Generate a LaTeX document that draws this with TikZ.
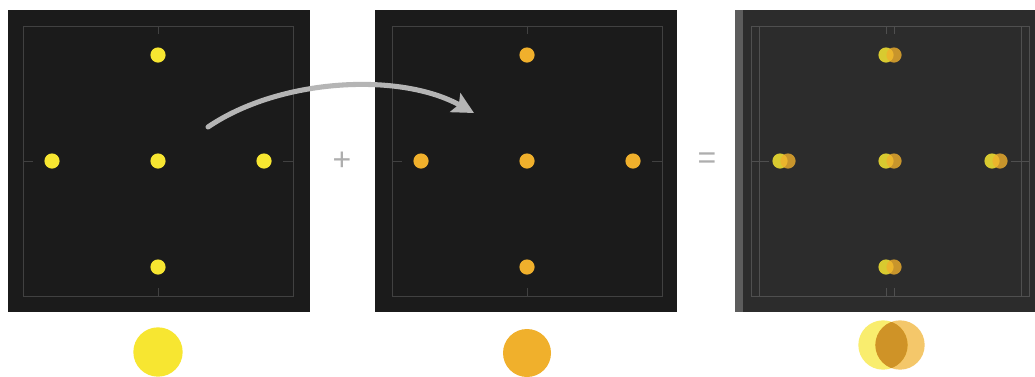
\documentclass[tikz,border=0pt]{standalone}
\usepackage{fontspec}
\setmainfont{Liberation Sans}
\usetikzlibrary{arrows.meta}
\definecolor{panelbg}{HTML}{1B1B1B}
\definecolor{mixbg}{HTML}{2C2C2C}
\definecolor{mixedge}{HTML}{5C5C5C}
\definecolor{frameline}{HTML}{414141}
\definecolor{mixframe}{HTML}{4F4F4F}
\definecolor{dotyellow}{HTML}{F7E631}
\definecolor{dotorange}{HTML}{F0B02C}
\definecolor{overlap}{HTML}{CF9327}
\definecolor{arrowgray}{HTML}{B5B5B5}
\definecolor{signgray}{HTML}{AEAEAE}
\begin{document}
\begin{tikzpicture}[x=0.75pt,y=-0.75pt,
  frame/.style={draw=#1,line width=0.65pt},
  dot/.style={circle,fill=#1,inner sep=0pt,minimum size=11.4pt},
  bigdisc/.style={circle,fill=#1,inner sep=0pt,minimum size=37pt},
  sign/.style={text=signgray,font=\fontsize{24}{24}\selectfont,inner sep=0pt},
  target/.pic={% square frame with centre ticks, 270 units wide
    \draw[frame=#1] (-135,-135) rectangle (135,135);
    \draw[frame=#1] (0,-135) -- (0,-127) (0,135) -- (0,127)
                    (-135,0) -- (-125,0) (135,0) -- (125,0);
  },
  spots/.pic={% five spots: centre and four at distance 106
    \node[dot=#1] (-c) at (0,0) {};
    \node[dot=#1] (-n) at (0,-106) {};
    \node[dot=#1] (-s) at (0,106) {};
    \node[dot=#1] (-w) at (-106,0) {};
    \node[dot=#1] (-e) at (106,0) {};
  }]
\useasboundingbox[fill=white] (0,0) rectangle (1035,376);

% first panel
\fill[panelbg] (8,10) rectangle (310,312);
\pic at (158,161) {target=frameline};
\pic (a) at (158,161) {spots=dotyellow};

% second panel
\fill[panelbg] (375,10) rectangle (677,312);
\pic at (527,161) {target=frameline};
\pic (b) at (527,161) {spots=dotorange};

% combined panel
\fill[mixbg] (735,10) rectangle (1035,312);
\fill[mixedge] (735,10) rectangle (743,312);
\pic at (886,161) {target=mixframe};
\pic at (894,161) {target=mixframe};
\begin{scope}[opacity=0.85]
  \pic (m) at (886,161) {spots=dotyellow};
\end{scope}
\begin{scope}[opacity=0.8]
  \pic (n) at (894,161) {spots=dotorange};
\end{scope}

% curved arrow
\coordinate (from) at (208,127);
\coordinate (to) at (474,113);
\draw[arrowgray,line width=3.8pt,line cap=round,
      -{Stealth[length=16pt,width=16pt,inset=3pt]}]
  (from) .. controls (280,78) and (400,72) .. (to);

% operators
\node[sign] (plus) at (342,161) {+};
\node[sign] (equals) at (707,161) {=};

% colour swatches
\node[bigdisc=dotyellow] (sy) at (158,352) {};
\node[bigdisc=dotorange,minimum size=36pt] (so) at (527,353) {};
\node[bigdisc=dotyellow,opacity=0.7] (my) at (883,345) {};
\node[bigdisc=dotorange,opacity=0.7] (mo) at (900,345) {};
\begin{scope}
  \clip (883,345) circle (24.6);
  \fill[overlap] (900,345) circle (24.6);
\end{scope}
\end{tikzpicture}
\end{document}
